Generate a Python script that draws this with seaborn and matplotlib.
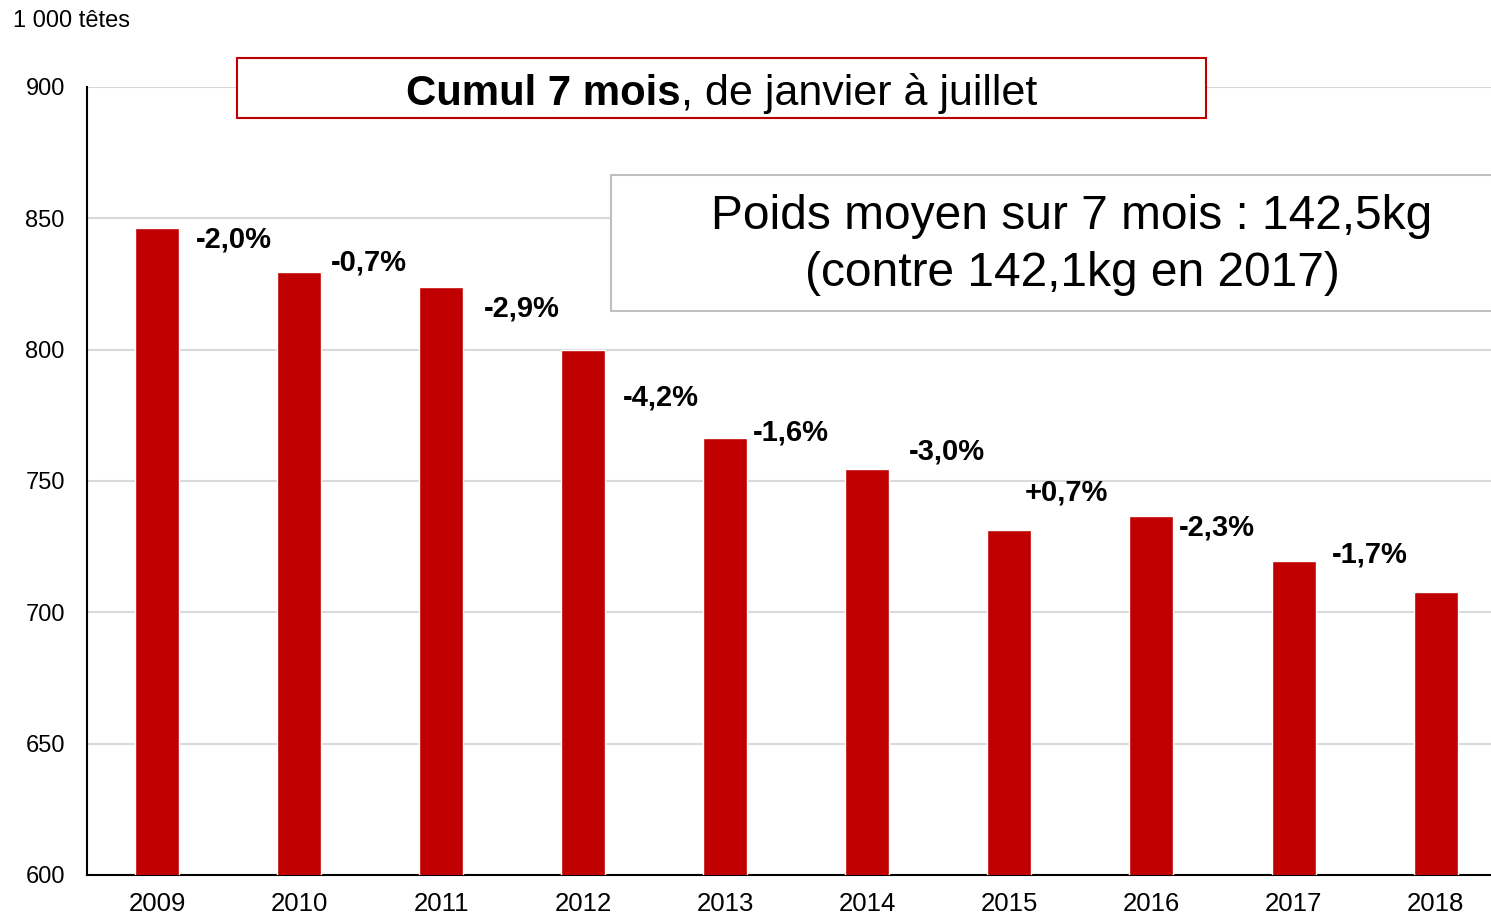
import pandas as pd
import matplotlib.pyplot as plt
import matplotlib.patches as patches
from matplotlib.text import Annotation
import seaborn as sns

# Data (1 000 têtes, cumul janvier-juillet)
years = ['2009', '2010', '2011', '2012', '2013', '2014', '2015', '2016', '2017', '2018']
heads = [846.3, 829.6, 823.9, 800.0, 766.4, 754.6, 731.4, 736.7, 719.6, 707.8]
changes = ['-2,0%', '-0,7%', '-2,9%', '-4,2%', '-1,6%', '-3,0%', '+0,7%', '-2,3%', '-1,7%']

# where each change label sits (x shift from its bar, y in data units)
label_dx = [0.54, 0.49, 0.57, 0.55, 0.46, 0.56, 0.40, 0.46, 0.54]
label_y = [841.8, 833.1, 815.5, 781.6, 768.3, 761.1, 745.5, 732.2, 721.9]

df = pd.DataFrame({'year': years, 'heads': heads})

sns.set_style('white')
plt.rcParams['font.family'] = ['Liberation Sans', 'DejaVu Sans']
plt.rcParams['text.color'] = 'black'
plt.rcParams['xtick.color'] = 'black'
plt.rcParams['ytick.color'] = 'black'

red = '#c00000'

fig = plt.figure(figsize=(14.91, 9.17), dpi=100)
ax = fig.add_axes([87 / 1491, 42 / 917, 1 - 87 / 1491, 788 / 917])

sns.barplot(x='year', y='heads', data=df, color=red, saturation=1,
            width=0.31, ax=ax, zorder=3)

ax.set_ylim(600, 900)
ax.set_xlim(-0.493, 9.39)
ax.set_yticks(range(600, 901, 50))
ax.set_xlabel('')
ax.set_ylabel('')
ax.grid(axis='y', color='#d9d9d9', linewidth=1.5, zorder=0)
ax.set_axisbelow(True)
for side in ['top', 'right']:
    ax.spines[side].set_visible(False)
ax.spines['left'].set_color('black')
ax.spines['bottom'].set_color('black')
ax.spines['left'].set_linewidth(1.5)
ax.spines['bottom'].set_linewidth(1.5)
ax.tick_params(axis='y', length=0, pad=16, labelsize=17)
ax.tick_params(axis='x', length=0, pad=12, labelsize=18.5)

# change labels between bars
for i, txt in enumerate(changes):
    ax.text(i + label_dx[i], label_y[i], txt, ha='center', va='center',
            fontsize=21, fontweight='bold', zorder=5)

# unit
fig.text(13 / 1491, 1 - 21 / 917, '1 000 têtes', ha='left', va='center', fontsize=17)

# title box
fig.patches.append(patches.Rectangle((237 / 1491, 1 - 118 / 917), 969 / 1491, 60 / 917,
                                     transform=fig.transFigure, facecolor='white',
                                     edgecolor=red, linewidth=1.5, zorder=10))
t1 = fig.text(406 / 1491, 1 - 105 / 917, 'Cumul 7 mois', ha='left', va='baseline',
              fontsize=30.2, fontweight='bold', zorder=11)
fig.add_artist(Annotation(', de janvier à juillet', xy=(1, 0), xycoords=t1,
                          xytext=(0, 0), textcoords='offset points',
                          ha='left', va='bottom', fontsize=31, zorder=11))

# average weight box
fig.patches.append(patches.Rectangle((611 / 1491, 1 - 311 / 917), 900 / 1491, 136 / 917,
                                     transform=fig.transFigure, facecolor='white',
                                     edgecolor='#bfbfbf', linewidth=1.5, zorder=10))
fig.text(1072 / 1491, 1 - 229 / 917, 'Poids moyen sur 7 mois : 142,5kg',
         ha='center', va='baseline', fontsize=34.5, zorder=11)
fig.text(1072 / 1491, 1 - 286 / 917, '(contre 142,1kg en 2017)',
         ha='center', va='baseline', fontsize=34.5, zorder=11)

plt.savefig('out.png', dpi=100)
plt.close()
